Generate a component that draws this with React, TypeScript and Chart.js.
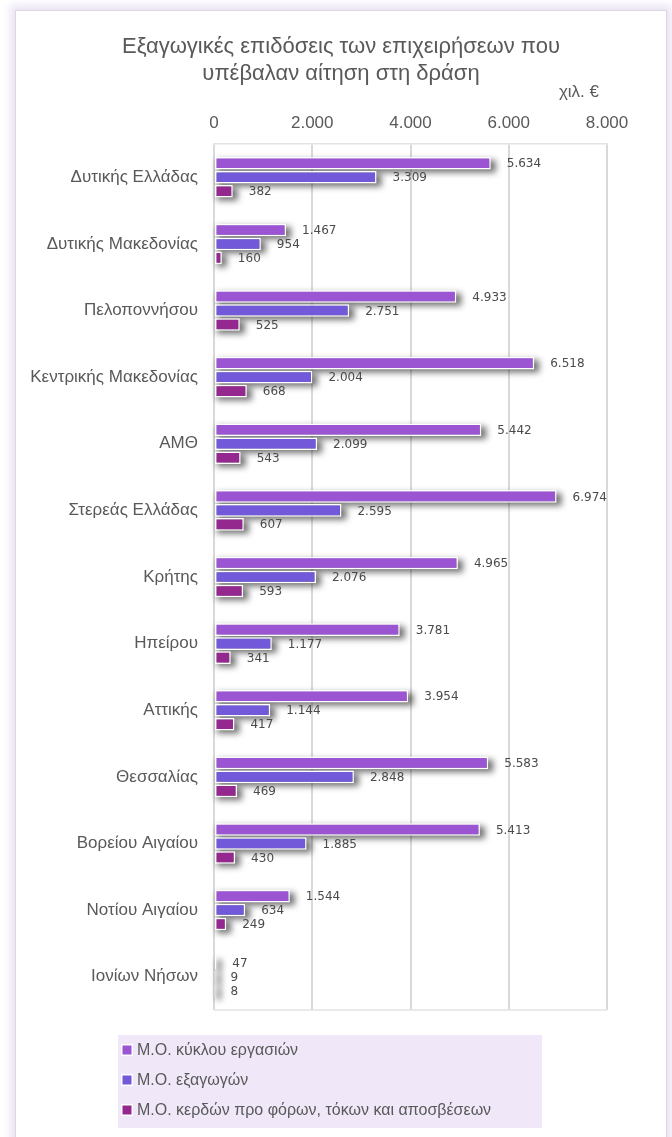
import React, { useEffect, useRef } from "react";
import { Chart, registerables } from "chart.js";

Chart.register(...registerables);

const categories = [
  "Δυτικής Ελλάδας",
  "Δυτικής Μακεδονίας",
  "Πελοποννήσου",
  "Κεντρικής Μακεδονίας",
  "ΑΜΘ",
  "Στερεάς Ελλάδας",
  "Κρήτης",
  "Ηπείρου",
  "Αττικής",
  "Θεσσαλίας",
  "Βορείου Αιγαίου",
  "Νοτίου Αιγαίου",
  "Ιονίων Νήσων",
];
const turnover = [5634, 1467, 4933, 6518, 5442, 6974, 4965, 3781, 3954, 5583, 5413, 1544, 47];
const exportsAvg = [3309, 954, 2751, 2004, 2099, 2595, 2076, 1177, 1144, 2848, 1885, 634, 9];
const ebitda = [382, 160, 525, 668, 543, 607, 593, 341, 417, 469, 430, 249, 8];
const seriesNames = [
  "Μ.Ο. κύκλου εργασιών",
  "Μ.Ο. εξαγωγών",
  "Μ.Ο. κερδών προ φόρων, τόκων και αποσβέσεων",
];
const seriesColors = ["#9b55d3", "#7159d9", "#94288f"];
const titleLines = ["Εξαγωγικές επιδόσεις των επιχειρήσεων που", "υπέβαλαν αίτηση στη δράση"];
const unitLabel = "χιλ. €";
const xTicks = [0, 2000, 4000, 6000, 8000];

const fmt = (v: number) => String(v).replace(/\B(?=(\d{3})+(?!\d))/g, ".");

const TEXT = "#595959";

const shadowPlugin = {
  id: "barShadow",
  beforeDatasetsDraw(chart: any) {
    const ctx = chart.ctx;
    ctx.save();
    ctx.filter = "blur(3px)";
    ctx.fillStyle = "rgba(0,0,0,0.55)";
    chart.data.datasets.forEach((_ds: any, i: number) => {
      const meta = chart.getDatasetMeta(i);
      meta.data.forEach((el: any) => {
        const p = el.getProps(["x", "y", "base", "height"], true);
        const w = Math.max(p.x - p.base, 1) + 1;
        ctx.fillRect(p.base + 2, p.y - p.height / 2 + 3, w + 2, p.height);
      });
    });
    ctx.restore();
  },
};

const labelsPlugin = {
  id: "decor",
  afterDatasetsDraw(chart: any) {
    const ctx = chart.ctx;
    ctx.save();
    ctx.font = "12px 'DejaVu Sans'";
    ctx.fillStyle = "#4a4a4a";
    ctx.textAlign = "left";
    ctx.textBaseline = "middle";
    chart.data.datasets.forEach((ds: any, i: number) => {
      const meta = chart.getDatasetMeta(i);
      meta.data.forEach((el: any, j: number) => {
        ctx.fillText(fmt(ds.data[j]), el.x + 16, el.y + 1);
      });
    });
    ctx.restore();
  },
  afterDraw(chart: any) {
    const ctx = chart.ctx;
    const ca = chart.chartArea;
    ctx.save();
    ctx.strokeStyle = "#e3e3e3";
    ctx.lineWidth = 1.5;
    ctx.beginPath();
    ctx.moveTo(ca.left, ca.bottom);
    ctx.lineTo(ca.right, ca.bottom);
    ctx.stroke();
    ctx.fillStyle = TEXT;
    ctx.textAlign = "center";
    ctx.textBaseline = "middle";
    ctx.font = "22px 'Liberation Sans', sans-serif";
    ctx.fillText(titleLines[0], 341, 47);
    ctx.fillText(titleLines[1], 341, 74);
    ctx.font = "17px 'Liberation Sans', sans-serif";
    ctx.textAlign = "right";
    ctx.fillText(unitLabel, 599, 92);
    ctx.fillStyle = "#f0e8f8";
    ctx.fillRect(118, 1035, 424, 93);
    ctx.textAlign = "left";
    ctx.font = "16px 'Liberation Sans', sans-serif";
    seriesNames.forEach((n, i) => {
      const y = 1050 + i * 30;
      ctx.fillStyle = "#ffffff";
      ctx.fillRect(121, y - 6, 12, 12);
      ctx.fillStyle = seriesColors[i];
      ctx.fillRect(122.5, y - 4.5, 9, 9);
      ctx.fillStyle = TEXT;
      ctx.fillText(n, 137, y + 1);
    });
    ctx.restore();
  },
};

export default function App() {
  const ref = useRef<HTMLCanvasElement | null>(null);
  useEffect(() => {
    if (!ref.current) return;
    const data = [turnover, exportsAvg, ebitda];
    const chart = new Chart(ref.current, {
      type: "bar",
      data: {
        labels: categories,
        datasets: data.map((d, i) => ({
          label: seriesNames[i],
          data: d,
          backgroundColor: seriesColors[i],
          borderColor: "#ffffff",
          borderWidth: 1.5,
          borderSkipped: false,
          categoryPercentage: 0.63,
          barPercentage: 0.9,
        })),
      },
      options: {
        indexAxis: "y",
        responsive: false,
        animation: false,
        devicePixelRatio: 1,
        layout: { padding: { top: 100, right: 65, bottom: 127, left: 0 } },
        plugins: {
          legend: { display: false },
          title: { display: false },
          tooltip: { enabled: false },
        },
        scales: {
          x: {
            position: "top",
            min: 0,
            max: 8000,
            afterFit: (s: any) => {
              s.height = 44;
            },
            afterBuildTicks: (s: any) => {
              s.ticks = xTicks.map((v) => ({ value: v }));
            },
            ticks: {
              color: TEXT,
              font: { family: "'Liberation Sans', sans-serif", size: 17 },
              padding: 10,
              callback: (v: any) => fmt(Number(v)),
            },
            grid: { color: "#d9d9d9", lineWidth: 2, drawTicks: false },
            border: { display: true, color: "#e3e3e3", width: 1.5 },
          },
          y: {
            afterFit: (s: any) => {
              s.width = 214;
            },
            ticks: {
              color: TEXT,
              font: { family: "'Liberation Sans', sans-serif", size: 17 },
              padding: 8,
            },
            grid: { display: false },
            border: { display: false },
          },
        },
      },
      plugins: [shadowPlugin, labelsPlugin],
    } as any);
    return () => chart.destroy();
  }, []);
  return (
    <div style={{ position: "fixed", left: 0, top: 0, width: 672, height: 1137, background: "#ffffff", overflow: "hidden" }}>
      <div
        style={{
          position: "absolute",
          left: 15,
          top: 10,
          width: 650,
          height: 1160,
          border: "1px solid #dcd8e0",
          boxShadow: "0 0 8px 5px #ece4f5",
          background: "#ffffff",
        }}
      />
      <canvas ref={ref} width={672} height={1137} style={{ position: "absolute", left: 0, top: 0 }} />
    </div>
  );
}
